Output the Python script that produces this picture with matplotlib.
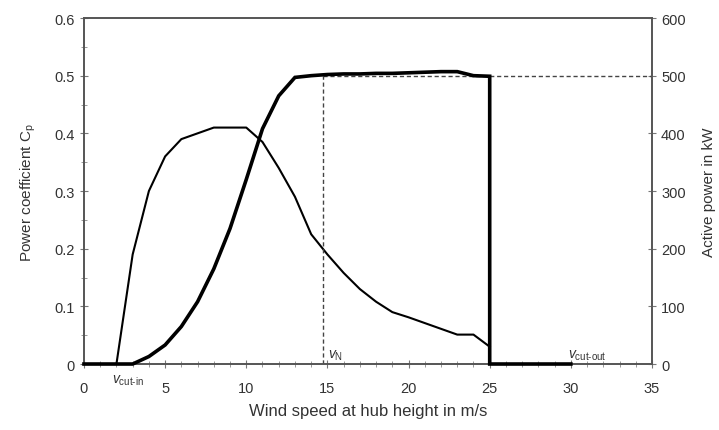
import matplotlib
matplotlib.use("Agg")
import matplotlib.pyplot as plt
from matplotlib.ticker import MultipleLocator

plt.rcParams['font.family'] = ['Liberation Sans', 'DejaVu Sans']
plt.rcParams['mathtext.fontset'] = 'custom'
plt.rcParams['mathtext.rm'] = 'Liberation Sans'
plt.rcParams['mathtext.it'] = 'Liberation Sans:italic'

# Leistungsbeiwert Cp ueber Windgeschwindigkeit
v_cp = [0, 1, 2, 3, 4, 5, 6, 7, 8, 9, 10, 11, 12, 13, 14, 15, 16, 17, 18,
        19, 20, 21, 22, 23, 24, 25]
cp = [0, 0, 0, 0.19, 0.30, 0.36, 0.39, 0.40, 0.41, 0.41, 0.41, 0.385, 0.34,
      0.29, 0.225, 0.19, 0.158, 0.13, 0.108, 0.09, 0.081, 0.071, 0.061,
      0.051, 0.051, 0.03]

# Wirkleistung in kW
v_p = [0, 1, 2, 3, 4, 5, 6, 7, 8, 9, 10, 11, 12, 13, 14, 15, 16, 17, 18,
       19, 20, 21, 22, 23, 24, 25, 25, 30]
power = [0, 0, 0, 0, 13, 33, 65, 108, 165, 235, 320, 408, 465, 497, 500,
         502, 503, 503, 504, 504, 505, 506, 507, 507, 500, 499, 0, 0]

v_n = 14.75
p_n = 500

txt = '#333333'
frame = '#555555'

fig = plt.figure(figsize=(7.19, 4.31), dpi=100)
ax1 = fig.add_axes([0.1168, 0.1531, 0.79, 0.8028])
ax2 = ax1.twinx()

ax1.plot(v_cp, cp, color='black', lw=1.5, clip_on=False, zorder=3)
ax2.plot(v_p, power, color='black', lw=2.6, solid_joinstyle='miter',
         clip_on=False, zorder=3)
ax2.plot([v_n, v_n], [0, p_n], color='#444444', lw=1, ls=(0, (3, 2)))
ax2.plot([v_n, 35], [p_n, p_n], color='#444444', lw=1, ls=(0, (3, 2)))

ax1.set_xlim(0, 35)
ax1.set_ylim(0, 0.6)
ax2.set_ylim(0, 600)

ax1.xaxis.set_major_locator(MultipleLocator(5))
ax1.xaxis.set_minor_locator(MultipleLocator(1))
ax1.yaxis.set_major_locator(MultipleLocator(0.1))
ax1.yaxis.set_minor_locator(MultipleLocator(0.05))
ax2.yaxis.set_major_locator(MultipleLocator(100))
ax1.set_yticks([0, 0.1, 0.2, 0.3, 0.4, 0.5, 0.6],
               ['0', '0.1', '0.2', '0.3', '0.4', '0.5', '0.6'])

for ax in (ax1, ax2):
    for s in ax.spines.values():
        s.set_color(frame)
        s.set_linewidth(1.2)
    ax.tick_params(which='major', direction='inout', length=6, width=0.8,
                   color='#777777', labelsize=10.5, labelcolor=txt)
    ax.tick_params(which='minor', direction='inout', length=4, width=0.6,
                   color='#888888')
ax1.tick_params(axis='x', which='major', pad=9)

ax1.set_xlabel('Wind speed at hub height in m/s', fontsize=12, color=txt,
               labelpad=6)
ax1.set_ylabel('Power coefficient C$_\\mathrm{p}$', fontsize=11, color=txt,
               labelpad=12)
ax2.set_ylabel('Active power in kW', fontsize=11, color=txt, labelpad=12)

ax1.text(1.7, -0.015, r'$v_{\mathrm{cut\text{-}in}}$', fontsize=10,
         color=txt, ha='left', va='top')
ax1.text(15.05, 0.004, r'$v_{\mathrm{N}}$', fontsize=10, color=txt,
         ha='left', va='bottom')
ax1.text(29.8, 0.004, r'$v_{\mathrm{cut\text{-}out}}$', fontsize=10,
         color=txt, ha='left', va='bottom')

fig.savefig('out.png', dpi=100)
